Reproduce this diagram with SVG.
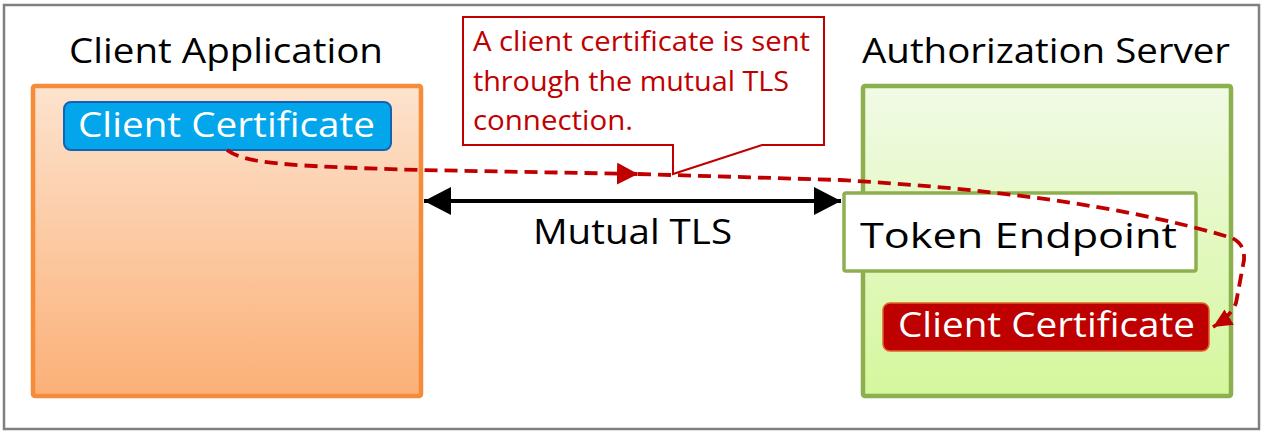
<svg xmlns="http://www.w3.org/2000/svg" width="1262" height="432" viewBox="0 0 1262 432">
  <defs>
    <linearGradient id="gOrange" x1="0" y1="0" x2="0" y2="1">
      <stop offset="0" stop-color="#FDE3CE"/>
      <stop offset="1" stop-color="#FBB077"/>
    </linearGradient>
    <linearGradient id="gGreen" x1="0" y1="0" x2="0" y2="1">
      <stop offset="0" stop-color="#F1FAE6"/>
      <stop offset="1" stop-color="#D5F79C"/>
    </linearGradient>
    <marker id="redBig" markerUnits="userSpaceOnUse" markerWidth="24" markerHeight="24" refX="21" refY="11" orient="auto">
      <path d="M0,0 L21,11 L0,22 Z" fill="#C00000"/>
    </marker>
    <marker id="redSmall" markerUnits="userSpaceOnUse" markerWidth="22" markerHeight="22" refX="19" refY="9" orient="auto">
      <path d="M0,0 L19,9 L0,18 Z" fill="#C00000"/>
    </marker>
    <marker id="blackHead" markerUnits="userSpaceOnUse" markerWidth="30" markerHeight="30" refX="27" refY="14" orient="auto-start-reverse">
      <path d="M0,0 L27,14 L0,28 Z" fill="#000"/>
    </marker>
  </defs>
  <style>
    .title { font-family: "Open Sans", "Noto Sans", "Liberation Sans", sans-serif; font-size: 35px; fill: #000; }
    .cert { font-family: "Open Sans", "Noto Sans", "Liberation Sans", sans-serif; font-size: 35px; fill: #fff; }
    .note { font-family: "Open Sans", "Noto Sans", "Liberation Sans", sans-serif; font-size: 28px; fill: #C00000; }
    .flow { fill: none; stroke: #C00000; stroke-width: 3.8; stroke-dasharray: 13 7; }
  </style>

  <!-- outer frame -->
  <rect x="4" y="5" width="1255" height="424" fill="#fff" stroke="#808080" stroke-width="2.5"/>

  <!-- client application -->
  <g id="client-application">
    <text class="title" x="69" y="63" textLength="314" lengthAdjust="spacingAndGlyphs">Client Application</text>
    <rect x="33" y="86" width="388" height="310" rx="2" fill="url(#gOrange)" stroke="#F68B3A" stroke-width="4.5"/>
  </g>

  <g id="client-certificate-source">
    <rect x="64" y="102" width="327" height="48" rx="7" fill="#03A6EA" stroke="#1462B3" stroke-width="2"/>
    <text class="cert" x="78" y="137" textLength="297" lengthAdjust="spacingAndGlyphs">Client Certificate</text>
  </g>

  <!-- authorization server -->
  <g id="authorization-server">
    <text class="title" x="862" y="63" textLength="368" lengthAdjust="spacingAndGlyphs">Authorization Server</text>
    <rect x="863" y="86" width="368" height="310" rx="2" fill="url(#gGreen)" stroke="#8DB04E" stroke-width="4.5"/>
  </g>

  <g id="token-endpoint">
    <rect x="844" y="193" width="352" height="78" rx="2" fill="#fff" stroke="#8DB04E" stroke-width="3.5"/>
    <text class="title" x="860" y="248" font-size="42" textLength="317" lengthAdjust="spacingAndGlyphs">Token Endpoint</text>
  </g>

  <g id="client-certificate-received">
    <rect x="883" y="303" width="326" height="48" rx="7" fill="#BE0000" stroke="#E0622A" stroke-width="1.5"/>
    <text class="cert" x="898" y="337" textLength="297" lengthAdjust="spacingAndGlyphs">Client Certificate</text>
  </g>

  <!-- connectors -->
  <g id="connectors">
    <line x1="424" y1="201" x2="841" y2="201" stroke="#000" stroke-width="4" marker-start="url(#blackHead)" marker-end="url(#blackHead)"/>
    <path class="flow" d="M227,150 C245,163 280,166 420,170 L638,174" marker-end="url(#redBig)"/>
    <path class="flow" d="M638,174 L840,180 C980,188 1120,204 1232,238 Q1245,244 1244,260 L1236,303 Q1231,316 1213,327" marker-end="url(#redSmall)"/>
  </g>

  <g id="mutual-tls-label">
    <text class="title" x="533" y="244" textLength="199" lengthAdjust="spacingAndGlyphs">Mutual TLS</text>
  </g>

  <!-- callout -->
  <g id="callout">
    <path d="M463,17 H824 V145 H762 L673,174 V145 H463 Z" fill="#fff" stroke="#C00000" stroke-width="2"/>
    <text class="note" x="473" y="51" textLength="337" lengthAdjust="spacingAndGlyphs">A client certificate is sent</text>
    <text class="note" x="473" y="91" textLength="316" lengthAdjust="spacingAndGlyphs">through the mutual TLS</text>
    <text class="note" x="473" y="130" textLength="160" lengthAdjust="spacingAndGlyphs">connection.</text>
  </g>
</svg>
